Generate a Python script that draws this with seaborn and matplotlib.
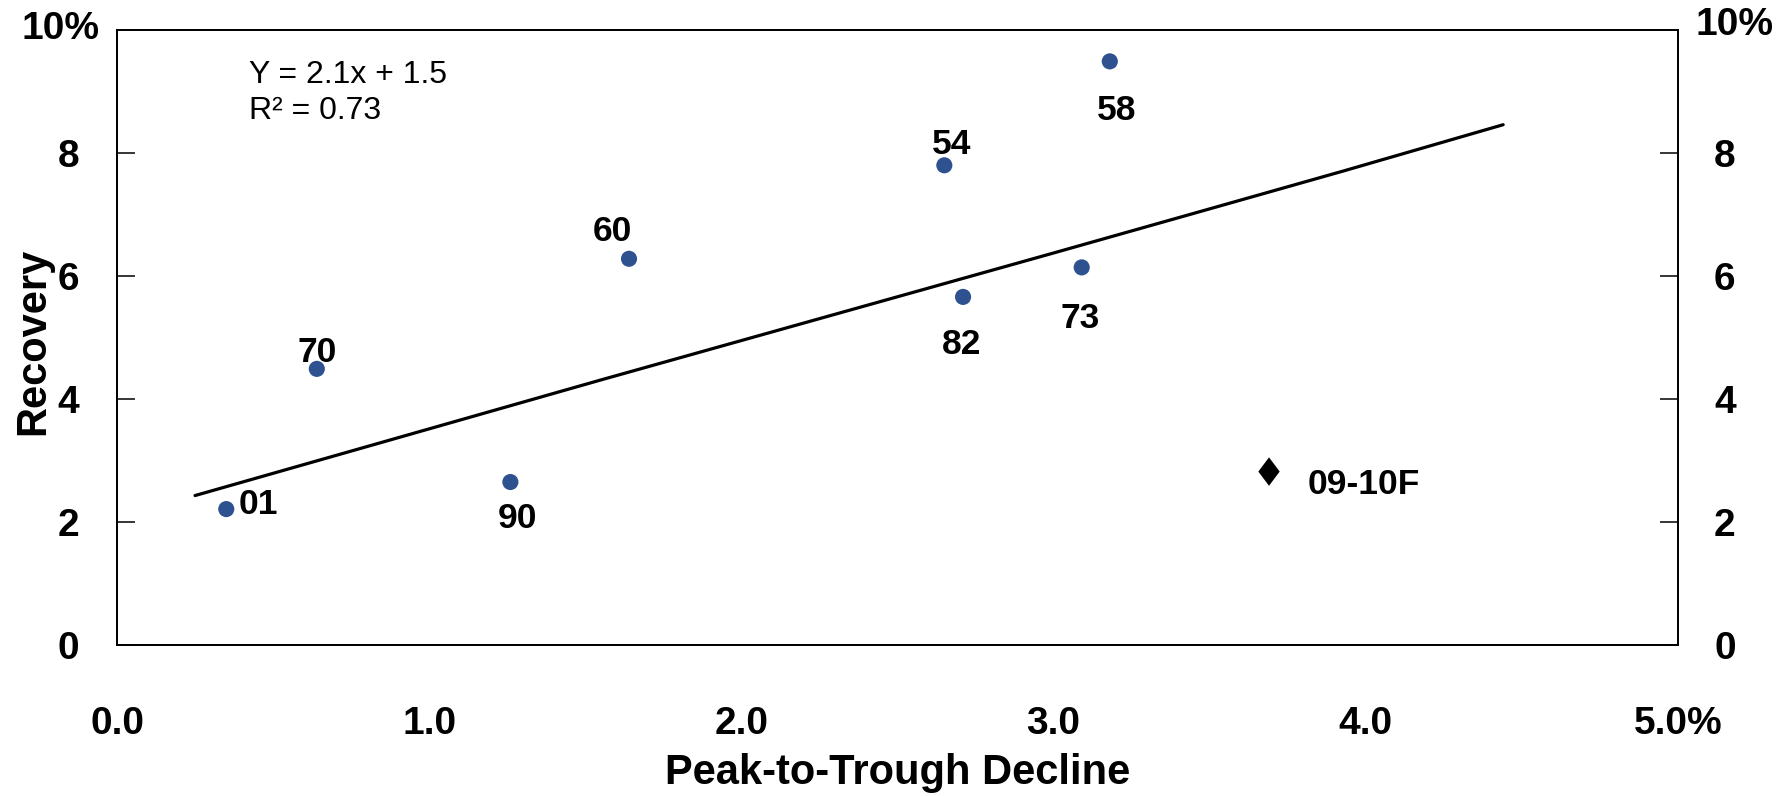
import matplotlib
matplotlib.use("Agg")
import matplotlib.pyplot as plt
import pandas as pd
import numpy as np
import seaborn as sns

# 散点数据 (peak-to-trough decline, recovery)
years = ['01', '70', '90', '60', '54', '82', '73', '58']
decline = [0.35, 0.64, 1.26, 1.64, 2.65, 2.71, 3.09, 3.18]
recovery = [2.21, 4.49, 2.65, 6.28, 7.80, 5.66, 6.14, 9.49]
# 标签偏移 (像素, 标签中心相对于点)
lab_dx = [32, 0, 7, -17, 7, -1, -2, 7]
lab_dy = [-8, -20, 33, -31, -24, 44, 48, 46]

# 预测点
fc_label = '09-10F'
fc_decline = [3.69]
fc_recovery = [2.82]

# 趋势线
fit_x = [0.25, 1.55, 2.99, 3.45, 3.93, 4.44]
fit_y = [2.43, 4.31, 6.36, 7.02, 7.71, 8.46]
eq_text = 'Y = 2.1x + 1.5\nR² = 0.73'

xticks = [0, 1, 2, 3, 4, 5]
xticklabels = ['0.0', '1.0', '2.0', '3.0', '4.0', '5.0%']
yticks = [0, 2, 4, 6, 8]
yticklabels = ['0', '2', '4', '6', '8']
ytop_label = '10%'

sns.set_style('white')
plt.rcParams['font.family'] = ['Liberation Sans', 'DejaVu Sans']
plt.rcParams['text.color'] = 'black'
plt.rcParams['axes.labelcolor'] = 'black'
plt.rcParams['xtick.color'] = 'black'
plt.rcParams['ytick.color'] = 'black'

fig = plt.figure(figsize=(17.86, 7.96), dpi=100)
ax = fig.add_axes([117/1786, 151/796, 1561/1786, 615/796])

df = pd.DataFrame({'decline': decline, 'recovery': recovery, 'year': years})
sns.lineplot(x=fit_x, y=fit_y, sort=False, color='black', lw=2.3, ax=ax)
sns.scatterplot(data=df, x='decline', y='recovery', color='#2E5290', s=135,
                edgecolor='none', ax=ax, zorder=3)
diamond = [(0, 1), (0.75, 0), (0, -1), (-0.75, 0)]
sns.scatterplot(x=fc_decline, y=fc_recovery, marker=diamond, color='black',
                s=420, edgecolor='none', ax=ax, zorder=3)

for t, x, y, dx, dy in zip(years, decline, recovery, lab_dx, lab_dy):
    ax.annotate(t, (x, y), xytext=(dx, -dy - 13), textcoords='offset pixels',
                ha='center', va='baseline', fontsize=25.5, fontweight='bold')
ax.annotate(fc_label, (fc_decline[0], fc_recovery[0]), xytext=(39, -9.5 - 13),
            textcoords='offset pixels', ha='left', va='baseline',
            fontsize=25.5, fontweight='bold')

ax.text(249/1786, 1 - 60/796, eq_text, transform=fig.transFigure,
        fontsize=23, va='top', ha='left', linespacing=1.25)

ax.set_xlim(0, 5)
ax.set_ylim(0, 10)
ax.set_xticks(xticks)
ax.set_xticklabels(xticklabels)
ax.set_yticks(yticks)
ax.set_yticklabels(yticklabels)
ax.tick_params(axis='x', direction='in', length=14, width=1.1, pad=44,
               labelsize=28)
ax.tick_params(axis='y', direction='in', length=13, width=1.1, pad=27,
               labelsize=28)
for lab in ax.get_xticklabels() + ax.get_yticklabels():
    lab.set_fontweight('bold')
for s in ax.spines.values():
    s.set_color('black')
    s.set_linewidth(1.3)

ax2 = ax.twinx()
ax2.set_position(ax.get_position())
ax2.set_ylim(0, 10)
ax2.set_yticks(yticks)
ax2.set_yticklabels(yticklabels)
ax2.tick_params(axis='y', direction='in', length=13, width=1.1, pad=26,
                labelsize=28)
for lab in ax2.get_yticklabels():
    lab.set_fontweight('bold')
for s in ax2.spines.values():
    s.set_color('black')
    s.set_linewidth(1.3)

# 顶部 10% 标签
ax.annotate(ytop_label, (0, 10), xycoords=('axes fraction', 'data'),
            xytext=(-56, 1), textcoords='offset pixels', ha='center',
            va='center', fontsize=28, fontweight='bold')
ax.annotate(ytop_label, (1, 10), xycoords=('axes fraction', 'data'),
            xytext=(56, 5), textcoords='offset pixels', ha='center',
            va='center', fontsize=28, fontweight='bold')

ax.set_xlabel('Peak-to-Trough Decline', fontsize=30, fontweight='bold')
ax.set_ylabel('Recovery', fontsize=30, fontweight='bold')
ax.xaxis.set_label_coords(0.5, -0.176)
ax.yaxis.set_label_coords(-0.041, 0.493)

fig.savefig('out.png', dpi=100)
